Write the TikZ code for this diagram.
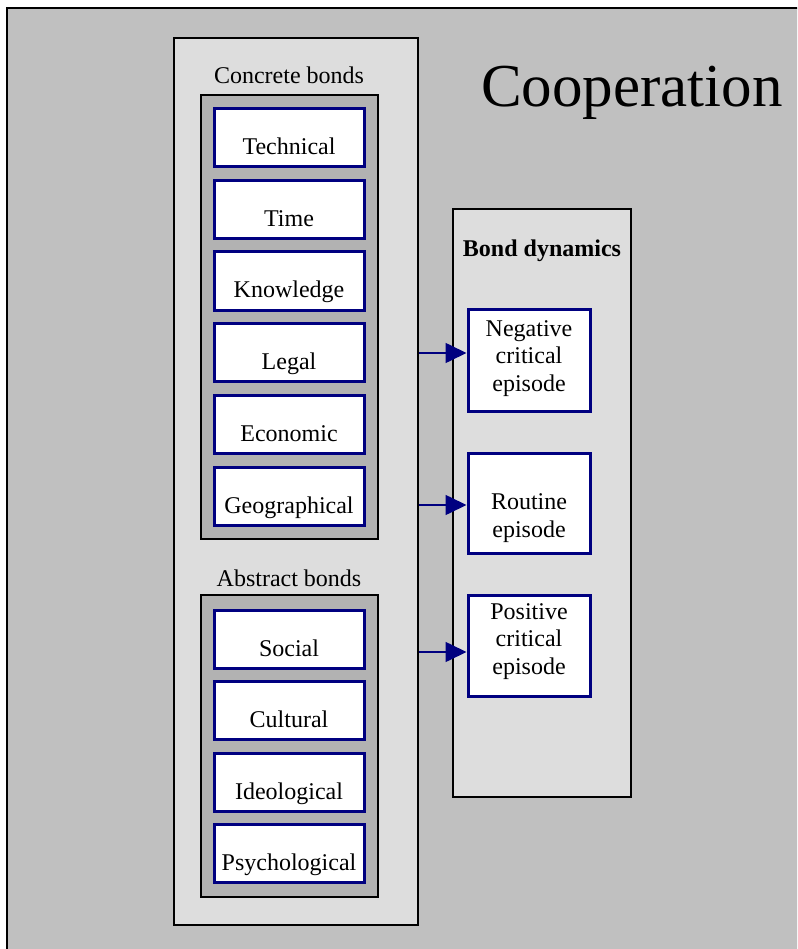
\documentclass[tikz,border=0pt]{standalone}
\usepackage{fontspec}
\setmainfont{Liberation Serif}
\usetikzlibrary{arrows.meta}

\definecolor{outergray}{HTML}{C0C0C0}
\definecolor{panelgray}{HTML}{DDDDDD}
\definecolor{groupgray}{HTML}{B2B2B2}
\definecolor{boxnavy}{HTML}{000080}

\tikzset{
  base text/.style={font=\fontsize{24}{27.5}\selectfont},
  panel/.style={draw=black, fill=panelgray, line width=2pt, inner sep=0pt},
  group/.style={draw=black, fill=groupgray, line width=1.8pt, inner sep=0pt,
    minimum width=177pt},
  bondbox/.style={base text, draw=boxnavy, fill=white, line width=3pt,
    inner sep=0pt, minimum width=150pt, minimum height=58pt,
    text height=34pt, text depth=0pt},
  episodebox/.style={draw=boxnavy, fill=white, line width=3pt,
    inner sep=0pt, minimum width=122pt},
  caption/.style={base text, anchor=base, inner sep=0pt},
  % anchor=base of a multi-line node sits on its last line
  eptext/.style={base text, anchor=base, align=center, inner sep=0pt},
  link/.style={draw=boxnavy, line width=1.6pt,
    -{Triangle[length=21pt,width=20pt]}},
}

\begin{document}
\begin{tikzpicture}[x=1pt,y=-1pt]
  \useasboundingbox (0,0) rectangle (797,949);
  \clip (0,0) rectangle (797,949);
  \fill[white] (0,0) rectangle (797,949);

  % outer frame, running past the right and lower edges
  \draw[line width=2pt, fill=outergray] (6.5,8.5) rectangle (815,965);

  % title
  \node[anchor=base, inner sep=0pt, font=\fontsize{61}{70}\selectfont]
    (title) at (632,107) {Cooperation};

  % bonds panel
  \node[panel, minimum width=244pt, minimum height=887pt] (bonds) at (296,481.5) {};

  \node[caption] (concretelabel) at (289,84) {Concrete bonds};
  \node[group, minimum height=444pt] (concrete) at (289.5,317) {};
  \node[bondbox] (technical)    at (289,138) {Technical};
  \node[bondbox] (time)         at (289,210) {Time};
  \node[bondbox] (knowledge)    at (289,281) {Knowledge};
  \node[bondbox] (legal)        at (289,352) {Legal};
  \node[bondbox] (economic)     at (289,424) {Economic};
  \node[bondbox] (geographical) at (289,496) {Geographical};

  \node[caption] (abstractlabel) at (289,586) {Abstract bonds};
  \node[group, minimum height=302pt] (abstract) at (289.5,746) {};
  \node[bondbox] (social)        at (289,639) {Social};
  \node[bondbox] (cultural)      at (289,710) {Cultural};
  \node[bondbox] (ideological)   at (289,782) {Ideological};
  \node[bondbox] (psychological) at (289,853) {Psychological};

  % bond dynamics panel
  \node[panel, minimum width=178pt, minimum height=588pt] (dynamics) at (542,503) {};
  \node[caption, font=\fontsize{24}{27.5}\selectfont\bfseries]
    (dynlabel) at (542,257) {Bond dynamics};

  \node[episodebox, minimum height=102pt] (negative) at (529,360) {};
  \node[eptext] (negtext) at (529,391) {Negative\\critical\\episode};

  \node[episodebox, minimum height=100pt] (routine) at (529,503) {};
  \node[eptext] (routtext) at (529,537) {Routine\\episode};

  \node[episodebox, minimum height=101pt] (positive) at (529,645.5) {};
  \node[eptext] (postext) at (529,674) {Positive\\critical\\episode};

  % links from the bonds panel to the episodes
  \draw[link] (bonds.east |- 0,353) -- (negative.west |- 0,353);
  \draw[link] (bonds.east |- 0,505) -- (routine.west |- 0,505);
  \draw[link] (bonds.east |- 0,652) -- (positive.west |- 0,652);
\end{tikzpicture}
\end{document}
